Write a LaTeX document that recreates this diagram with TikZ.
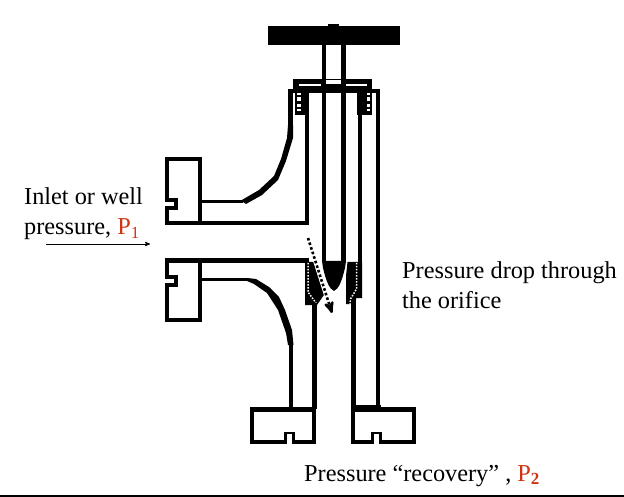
\documentclass[tikz,border=0pt]{standalone}
\usepackage{fontspec}
\setmainfont{Liberation Serif}
\usetikzlibrary{arrows}
\definecolor{pressred}{RGB}{208,52,20}
\tikzset{
  wall/.style={draw=black, line width=4.6pt, line join=miter},
  thinwall/.style={draw=black, line width=3pt},
  notch/.style={draw=black, line width=2.2pt},
  solid black/.style={fill=black, draw=none},
  gap/.style={fill=white, draw=none},
  caption/.style={anchor=base west, inner sep=0pt, font=\fontsize{24.3}{29}\selectfont},
}

\begin{document}
\begin{tikzpicture}[>=stealth',x=1pt,y=-1pt]
\useasboundingbox (0,0) rectangle (624,497);

% Define the handle and the stem
\fill[solid black] (268,26) rectangle (400,45);
\fill[solid black] (328,24.5) rectangle (339,27);
\draw[wall] (324,45) -- (324,262);
\draw[wall] (343.5,45) -- (343.5,262);

% Define the cap and the packing
\fill[solid black] (293,79) rectangle (372,90);
\fill[gap] (299,84) rectangle (321,86);
\fill[gap] (346,84) rectangle (367,86);
\fill[gap] (326.3,76.5) rectangle (341.2,78);
\fill[gap] (326.3,80.5) rectangle (341.2,84);
\fill[solid black] (295,89) rectangle (309,115);
\fill[gap] (297,92) rectangle (301,111);
\fill[solid black] (357,89) rectangle (372,115);
\fill[gap] (366.5,92) rectangle (370,111);
\foreach \yy in {95,101.5,107}{
  \fill[solid black] (296.5,\yy) rectangle (301.5,\yy+2.5);
  \fill[solid black] (366,\yy) rectangle (370.5,\yy+2.5);
}

% Draw the body walls
\draw[wall] (290.5,130) -- (290.5,91) -- (378,91) -- (378,407);
\draw[wall] (307,89) -- (307,223);
\draw[wall] (360,89) -- (360,298);

% Draw the upper inlet flange
\draw[wall] (309,223) -- (167,223) -- (167,208) -- (176,208) -- (176,200) -- (167,200) -- (167,159) -- (200,159) -- (200,223);
\draw[thinwall] (200,202) -- (243,202);
\fill[solid black] (241,200.5) -- (259,190) -- (274,176) -- (281,159) -- (287,138) -- (288,125) -- (293,125) -- (293,138) -- (286,161) -- (278,180) -- (262,195) -- (246,204) -- cycle;

% Draw the lower inlet flange
\draw[wall] (309,260.5) -- (167,260.5) -- (167,277) -- (176,277) -- (176,285) -- (167,285) -- (167,320) -- (200,320) -- (200,260.5);
\draw[thinwall] (200,279.5) -- (248,279.5);
\fill[solid black] (247,278) -- (256,279) -- (269,287) -- (279,297) -- (285,310) -- (292,330) -- (293.5,345) -- (288,345) -- (286,333) -- (278,310) -- (267,293) -- (254,284) -- (247,281) -- cycle;
\draw[wall] (291,343) -- (291,408);

% Draw the seat
\fill[solid black] (305,262) -- (317,262) -- (326,292) -- (317,305) -- (305,305) -- cycle;
\fill[solid black] (347.5,262) -- (362,262) -- (362,298) -- (356,298) -- (356,300) -- (350,304) -- (346,304) -- (346,276) -- cycle;
\draw[white, line width=1.5pt, dash pattern=on 1.5pt off 1.5pt] (308,263) -- (308,292) -- (316,303);
\draw[white, line width=1.5pt, dash pattern=on 1.5pt off 1.5pt] (356.5,263) -- (356.5,289) -- (350.5,299) -- (350,304);
\draw[wall] (314.5,303) -- (314.5,409);
\draw[wall] (353.5,300) -- (353.5,409);

% Draw the outlet flanges
\draw[wall] (252,409.5) rectangle (314,442);
\fill[gap] (286.5,431) rectangle (292.5,446);
\draw[notch] (285.5,444) -- (285.5,433) -- (293.5,433) -- (293.5,444);
\draw[wall] (353,409.5) rectangle (414,442);
\fill[gap] (373.5,431) rectangle (379.5,446);
\draw[notch] (372.5,444) -- (372.5,433) -- (380.5,433) -- (380.5,444);
\fill[solid black] (351,404.5) rectangle (381,410);

% Draw the flow arrows
\coordinate (inA) at (46,244);
\coordinate (inB) at (150,244);
\coordinate (dropA) at (308,238);
\coordinate (dropB) at (332,313);
\coordinate (haloA) at (314.4,258);
\draw[->, line width=0.8pt] (inA) -- (inB);
\draw[white, line width=4.5pt] (haloA) -- (dropB);
\fill[solid black] (322,261) -- (346,261) -- (345,268) .. controls (342,280) and (339,289) .. (334,291) .. controls (329,289) and (326,280) .. (323,268) -- cycle;
\draw[line width=2.6pt, dash pattern=on 2.6pt off 2.2pt, -{stealth'}] (dropA) -- (dropB);

% Define the labels
\node[caption] (inlet) at (24,205) {Inlet or well};
\node[caption] (pone) at (24,235) {pressure, \textcolor{pressred}{P\textsubscript{1}}};
\node[caption] (dropa) at (402,279) {Pressure drop through};
\node[caption] (dropb) at (402,308) {the orifice};
\node[caption] (recovery) at (304,481) {Pressure “recovery” , \textcolor{pressred}{P\textsubscript{\textbf{2}}}};

% Draw the bottom rule
\fill[solid black] (0,495) rectangle (624,497);
\end{tikzpicture}
\end{document}
